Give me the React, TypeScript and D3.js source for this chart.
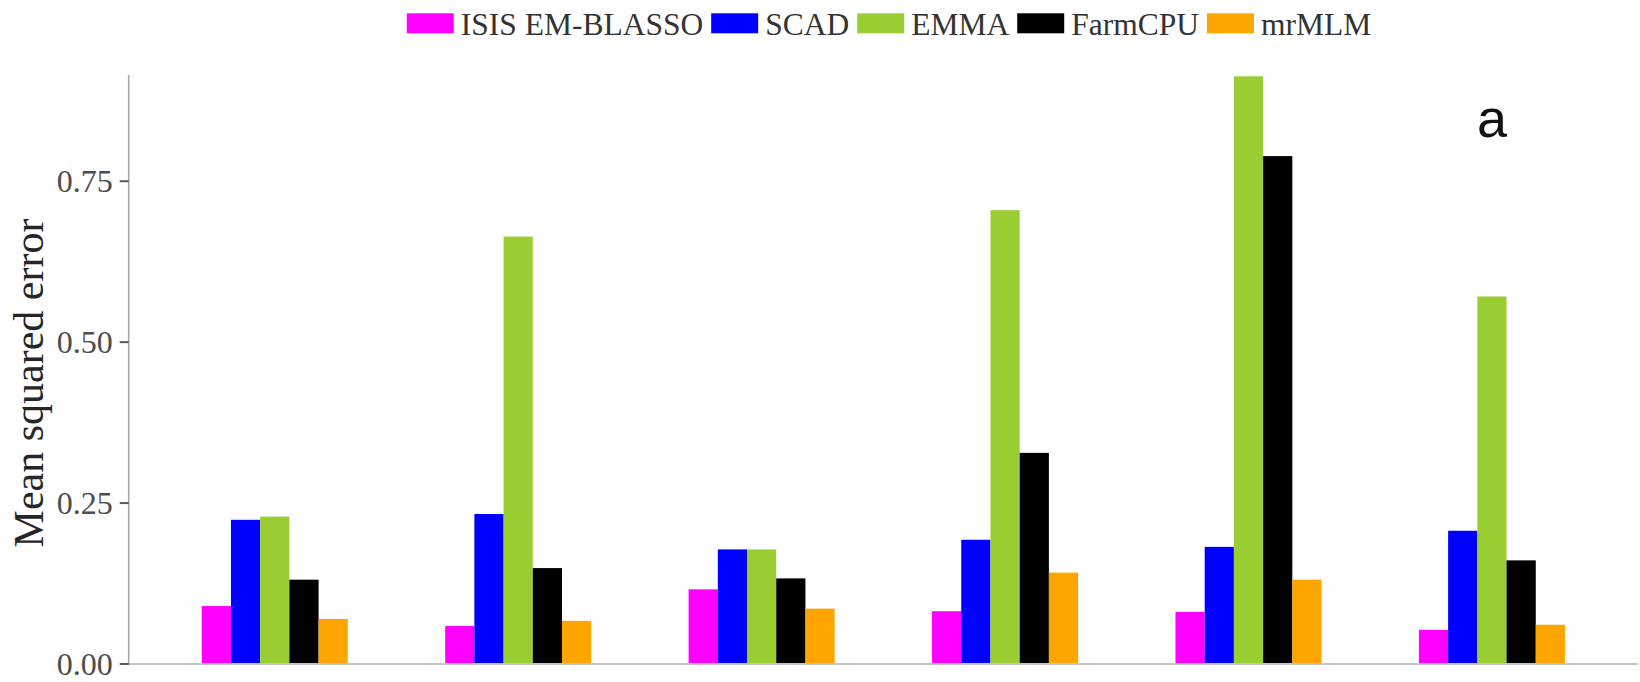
import React, { useMemo } from "react";
import * as d3 from "d3";

// Scenario groups along the x axis (unlabelled in the figure)
const scenarios = ["S1", "S2", "S3", "S4", "S5", "S6"];

// Methods compared, in legend / dodge order
const methods = ["ISIS EM-BLASSO", "SCAD", "EMMA", "FarmCPU", "mrMLM"];
const methodColors = ["#FF00FF", "#0000FF", "#9ACD32", "#000000", "#FFA500"];

// Mean squared error per scenario, one array per method
const isisEmBlasso = [0.090, 0.059, 0.116, 0.082, 0.081, 0.053];
const scad = [0.224, 0.233, 0.178, 0.193, 0.182, 0.207];
const emma = [0.229, 0.664, 0.178, 0.705, 0.913, 0.571];
const farmCpu = [0.131, 0.149, 0.133, 0.328, 0.789, 0.161];
const mrMlm = [0.070, 0.067, 0.086, 0.142, 0.131, 0.061];

const yTicks = [0, 0.25, 0.5, 0.75];
const yMax = 0.915;

const W = 1640;
const H = 682;
const margin = { left: 128.7, right: 2, top: 75, bottom: 18 };

const serif = "'Liberation Serif', 'Times New Roman', serif";
const sans = "'Liberation Sans', Arial, sans-serif";

const legendFontSize = 31.5;
const legendKeyW = 47;
const legendKeyH = 20;

function measure(text: string, font: string): number {
  const c = document.createElement("canvas");
  const ctx = c.getContext("2d");
  if (!ctx) return text.length * 15;
  ctx.font = font;
  return ctx.measureText(text).width;
}

export default function App() {
  const series = [isisEmBlasso, scad, emma, farmCpu, mrMlm];

  const x0 = d3
    .scaleBand<string>()
    .domain(scenarios)
    .range([margin.left, W - margin.right])
    .paddingInner(0.4)
    .paddingOuter(0.3);

  const x1 = d3
    .scaleBand<string>()
    .domain(methods)
    .range([0, x0.bandwidth()]);

  const y = d3
    .scaleLinear()
    .domain([0, yMax])
    .range([H - margin.bottom, margin.top]);

  // Legend layout: key, gap, label, gap ... centred over the panel
  const legend = useMemo(() => {
    const font = `${legendFontSize}px ${serif}`;
    const widths = methods.map((m) => measure(m, font));
    const keyGap = 7;
    const itemGap = 8;
    const total =
      widths.reduce((a, b) => a + b, 0) +
      methods.length * (legendKeyW + keyGap) +
      (methods.length - 1) * itemGap;
    let cx = 889 - total / 2;
    return methods.map((m, i) => {
      const item = { name: m, color: methodColors[i], keyX: cx, textX: cx + legendKeyW + keyGap };
      cx += legendKeyW + keyGap + widths[i] + itemGap;
      return item;
    });
  }, []);

  const y0 = y(0);

  return (
    <div style={{ position: "absolute", left: 0, top: 0 }}>
      <svg width={W} height={H} style={{ display: "block", background: "#fff" }}>
        {/* Bars */}
        {scenarios.map((s, gi) => (
          <g key={s} transform={`translate(${x0(s)},0)`}>
            {methods.map((m, mi) => {
              const v = series[mi][gi];
              return (
                <rect
                  key={m}
                  x={x1(m)}
                  y={y(v)}
                  width={x1.bandwidth()}
                  height={y0 - y(v)}
                  fill={methodColors[mi]}
                />
              );
            })}
          </g>
        ))}

        {/* X axis line */}
        <line
          x1={margin.left}
          x2={W - margin.right}
          y1={y0}
          y2={y0}
          stroke="#c4c4c4"
          strokeWidth={2}
        />

        {/* Y axis */}
        <line
          x1={margin.left}
          x2={margin.left}
          y1={y(yMax)}
          y2={y0 + 1}
          stroke="#a8a8a8"
          strokeWidth={1.6}
        />
        {yTicks.map((t) => (
          <g key={t}>
            <line
              x1={margin.left - 9}
              x2={margin.left}
              y1={y(t)}
              y2={y(t)}
              stroke="#5a5a5a"
              strokeWidth={2}
            />
            <text
              x={margin.left - 16}
              y={y(t)}
              dy="0.35em"
              textAnchor="end"
              fontFamily={serif}
              fontSize={32}
              fill="#4d4d4d"
            >
              {d3.format(".2f")(t)}
            </text>
          </g>
        ))}

        {/* Y axis title */}
        <text
          transform={`translate(43,${383}) rotate(-90)`}
          textAnchor="middle"
          fontFamily={serif}
          fontSize={42}
          fill="#262626"
        >
          Mean squared error
        </text>

        {/* Panel tag */}
        <text
          x={1492}
          y={137}
          textAnchor="middle"
          fontFamily={sans}
          fontSize={54}
          fill="#111"
        >
          a
        </text>

        {/* Legend */}
        {legend.map((it) => (
          <g key={it.name}>
            <rect
              x={it.keyX}
              y={13.3}
              width={legendKeyW}
              height={legendKeyH}
              fill={it.color}
            />
            <text
              x={it.textX}
              y={35}
              fontFamily={serif}
              fontSize={legendFontSize}
              fill="#333"
            >
              {it.name}
            </text>
          </g>
        ))}
      </svg>
    </div>
  );
}
